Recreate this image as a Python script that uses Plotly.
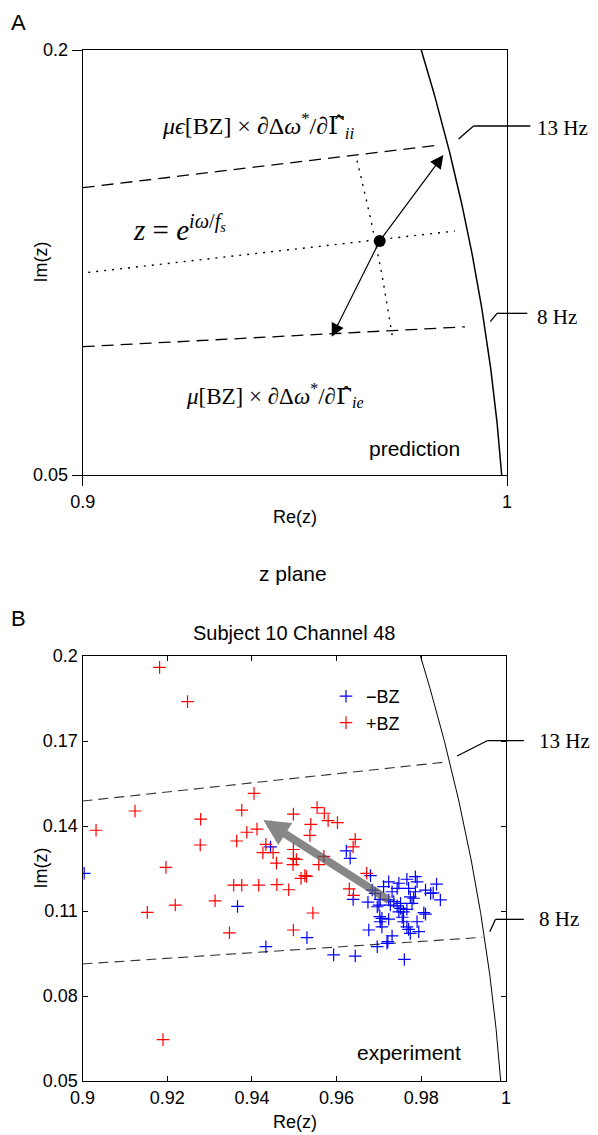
import numpy as np
import plotly.graph_objects as go

# ---------------- Panel B data ----------------
blue_re = [0.9004, 0.9444, 0.9623, 0.9632, 0.9680, 0.9366, 0.9639, 0.9674, 0.9691, 0.9700,
           0.9702, 0.9530, 0.9433, 0.9723, 0.9711, 0.9723, 0.9731, 0.9743, 0.9747, 0.9735,
           0.9743, 0.9751, 0.9758, 0.9766, 0.9747, 0.9766, 0.9786, 0.9790, 0.9770, 0.9786,
           0.9778, 0.9774, 0.9810, 0.9822, 0.9828, 0.9836, 0.9845, 0.9806, 0.9810, 0.9790,
           0.9758, 0.9755, 0.9766, 0.9770, 0.9774, 0.9794, 0.9731, 0.9721, 0.9707, 0.9703,
           0.9723, 0.9707, 0.9676, 0.9696, 0.9719, 0.9593, 0.9644, 0.9760, 0.9696, 0.9684,
           0.9703, 0.9727, 0.9782, 0.9751]
blue_im = [0.1233, 0.1326, 0.1312, 0.1286, 0.1225, 0.1116, 0.1141, 0.1131, 0.1162, 0.1121,
           0.1080, 0.1006, 0.0974, 0.1139, 0.1186, 0.1203, 0.1168, 0.1180, 0.1198, 0.1133,
           0.1118, 0.1109, 0.1097, 0.1106, 0.1097, 0.1212, 0.1221, 0.1203, 0.1180, 0.1168,
           0.1127, 0.1150, 0.1174, 0.1162, 0.1164, 0.1195, 0.1139, 0.1094, 0.1089, 0.1062,
           0.1062, 0.1078, 0.1044, 0.1035, 0.1021, 0.1027, 0.1012, 0.0992, 0.1074, 0.1062,
           0.1071, 0.1044, 0.1033, 0.0974, 0.0986, 0.0945, 0.0941, 0.0929, 0.1115, 0.1174,
           0.1141, 0.1121, 0.1145, 0.1127]

red_re = [0.9182, 0.9248, 0.9405, 0.9124, 0.9376, 0.9498, 0.9554, 0.9032, 0.9279, 0.9539,
          0.9388, 0.9412, 0.9537, 0.9364, 0.9278, 0.9433, 0.9571, 0.9580, 0.9602, 0.9644,
          0.9639, 0.9426, 0.9450, 0.9498, 0.9498, 0.9505, 0.9497, 0.9458, 0.9558, 0.9570,
          0.9525, 0.9529, 0.9516, 0.9357, 0.9376, 0.9416, 0.9459, 0.9487, 0.9313, 0.9544,
          0.9671, 0.9630, 0.9640, 0.9197, 0.9219, 0.9153, 0.9347, 0.9498, 0.9190]
red_im = [0.1960, 0.1839, 0.1515, 0.1453, 0.1456, 0.1442, 0.1465, 0.1385, 0.1424, 0.1406,
          0.1378, 0.1389, 0.1367, 0.1347, 0.1333, 0.1335, 0.1445, 0.1419, 0.1412, 0.1353,
          0.1326, 0.1306, 0.1306, 0.1317, 0.1286, 0.1282, 0.1264, 0.1269, 0.1264, 0.1293,
          0.1225, 0.1222, 0.1215, 0.1191, 0.1191, 0.1191, 0.1193, 0.1175, 0.1136, 0.1093,
          0.1233, 0.1178, 0.1155, 0.1254, 0.1121, 0.1095, 0.1023, 0.1033, 0.0646]

b_xticks = [0.9, 0.92, 0.94, 0.96, 0.98, 1.0]
b_xticklabels = ["0.9", "0.92", "0.94", "0.96", "0.98", "1"]
b_yticks = [0.05, 0.08, 0.11, 0.14, 0.17, 0.2]
b_yticklabels = ["0.05", "0.08", "0.11", "0.14", "0.17", "0.2"]

# B reference lines (13 Hz / 8 Hz radial lines)
b_dash13_re = [0.9, 0.9853]
b_dash13_im = [0.1488, 0.1625]
b_dash8_re = [0.9, 0.9944]
b_dash8_im = [0.0913, 0.1007]
b_arrow_tail = [0.9727, 0.1135]
b_arrow_tip = [0.9427, 0.1421]
b_lead13_re = [0.98846, 0.99556, 1.00421]
b_lead13_im = [0.1647, 0.1701, 0.1701]
b_lead8_re = [0.99617, 0.99752, 1.00421]
b_lead8_im = [0.10268, 0.10706, 0.10706]
b_hz_labels = ["13 Hz", "8 Hz"]
b_hz_label_re = [1.0074, 1.0074]
b_hz_label_im = [0.1701, 0.1071]

# ---------------- Panel A data (schematic) ----------------
a_xticks = [0.9, 1.0]
a_xticklabels = ["0.9", "1"]
a_yticks = [0.05, 0.2]
a_yticklabels = ["0.05", "0.2"]
a_dash13_re = [0.9, 0.9842]
a_dash13_im = [0.1514, 0.1665]
a_dash8_re = [0.9, 0.9901]
a_dash8_im = [0.0953, 0.1023]
a_dotline_re = [0.9013, 0.9877]
a_dotline_im = [0.1215, 0.1361]
a_pole = [0.9700, 0.1326]
a_arc_r = 0.978
a_arc_im = [0.0994, 0.1623]
a_tip_up = [0.9850, 0.1629]
a_tip_lo = [0.9587, 0.0988]
a_lead13_re = [0.98858, 0.99212, 1.0055]
a_lead13_im = [0.16858, 0.17317, 0.17317]
a_lead8_re = [0.99606, 0.99764, 1.00479]
a_lead8_im = [0.10410, 0.10706, 0.10706]
a_hz_labels = ["13 Hz", "8 Hz"]
a_hz_label_re = [1.0067, 1.0067]
a_hz_label_im = [0.1725, 0.1058]

X0, X1 = 0.9, 1.0
Y0, Y1 = 0.05, 0.2

SANS = "Liberation Sans, Arial, sans-serif"
SERIF = "Liberation Serif, DejaVu Serif, serif"

# the page adds an 8 px body margin; size the figure so that it fits the window
OFF = 8
W, H = 598 - OFF, 1135 - OFF


def px_x(p):
    return (p - OFF) / W


def px_y(p):
    return 1 - (p - OFF) / H


fig = go.Figure()

# unit circle |z| = 1
uc_im = np.linspace(Y0, Y1, 200)
uc_re = np.sqrt(1 - uc_im ** 2)

# ---------- Panel A ----------
fig.add_trace(go.Scatter(x=uc_re, y=uc_im, mode="lines", line=dict(color="black", width=1.5),
                         xaxis="x", yaxis="y", showlegend=False, hoverinfo="skip"))
for xs, ys in [(a_dash13_re, a_dash13_im), (a_dash8_re, a_dash8_im)]:
    fig.add_trace(go.Scatter(x=xs, y=ys, mode="lines",
                             line=dict(color="black", width=1.3, dash="12px,7px"),
                             xaxis="x", yaxis="y", showlegend=False, hoverinfo="skip"))
fig.add_trace(go.Scatter(x=a_dotline_re, y=a_dotline_im, mode="lines",
                         line=dict(color="black", width=1.4, dash="2px,6px"),
                         xaxis="x", yaxis="y", showlegend=False, hoverinfo="skip"))
arc_im = np.linspace(a_arc_im[0], a_arc_im[1], 60)
arc_re = np.sqrt(a_arc_r ** 2 - arc_im ** 2)
fig.add_trace(go.Scatter(x=arc_re, y=arc_im, mode="lines",
                         line=dict(color="black", width=1.4, dash="2px,6px"),
                         xaxis="x", yaxis="y", showlegend=False, hoverinfo="skip"))
fig.add_trace(go.Scatter(x=[a_pole[0]], y=[a_pole[1]], mode="markers",
                         marker=dict(color="black", size=12),
                         xaxis="x", yaxis="y", showlegend=False, hoverinfo="skip"))

# ---------- Panel B ----------
fig.add_trace(go.Scatter(x=uc_re, y=uc_im, mode="lines",
                         line=dict(color="black", width=1),
                         xaxis="x2", yaxis="y2", showlegend=False, hoverinfo="skip"))
for xs, ys in [(b_dash13_re, b_dash13_im), (b_dash8_re, b_dash8_im)]:
    fig.add_trace(go.Scatter(x=xs, y=ys, mode="lines",
                             line=dict(color="#333333", width=1.1, dash="10px,6px"),
                             xaxis="x2", yaxis="y2", showlegend=False, hoverinfo="skip"))
fig.add_trace(go.Scatter(x=blue_re, y=blue_im, mode="markers", name="\u2212BZ",
                         marker=dict(symbol="cross-thin", size=9, color="blue",
                                     line=dict(color="blue", width=1.2)),
                         xaxis="x2", yaxis="y2"))
fig.add_trace(go.Scatter(x=red_re, y=red_im, mode="markers", name="+BZ",
                         marker=dict(symbol="cross-thin", size=9, color="red",
                                     line=dict(color="red", width=1.2)),
                         xaxis="x2", yaxis="y2"))

# domains from the pixel frame of the reference
A_XD = [px_x(82.7), px_x(507)]
A_YD = [px_y(475), px_y(50)]
B_XD = [px_x(82.5), px_x(506)]
B_YD = [px_y(1081), px_y(656)]

axis_common = dict(showgrid=False, zeroline=False, showline=True, linecolor="black",
                   tickcolor="black", automargin=False,
                   tickfont=dict(family=SANS, size=18, color="black"))

fig.update_layout(
    template="none",
    width=W, height=H, margin=dict(l=0, r=0, t=0, b=0, pad=0),
    paper_bgcolor="white", plot_bgcolor="white",
    font=dict(family=SANS, color="black"),
    xaxis=dict(domain=A_XD, range=[X0, X1], anchor="y", tickvals=a_xticks, ticktext=a_xticklabels,
               ticks="outside", ticklen=10, mirror=True, linewidth=1.3, **axis_common),
    yaxis=dict(domain=A_YD, range=[Y0, Y1], anchor="x", tickvals=a_yticks, ticktext=a_yticklabels,
               ticks="outside", ticklen=10, mirror=True, linewidth=1.3, **axis_common),
    xaxis2=dict(domain=B_XD, range=[X0, X1], anchor="y2", tickvals=b_xticks, ticktext=b_xticklabels,
                ticks="inside", ticklen=5, mirror="ticks", linewidth=1, **axis_common),
    yaxis2=dict(domain=B_YD, range=[Y0, Y1], anchor="x2", tickvals=b_yticks, ticktext=b_yticklabels,
                ticks="inside", ticklen=5, mirror="ticks", linewidth=1, **axis_common),
    showlegend=True,
    legend=dict(x=px_x(326), y=px_y(678), xanchor="left", yanchor="top", bgcolor="rgba(0,0,0,0)",
                font=dict(family=SANS, size=18, color="black"), itemwidth=30,
                tracegroupgap=0, borderwidth=0),
)


def dom(v, lo, hi):
    return (v - lo) / (hi - lo)


# leader lines (domain refs so they are not clipped)
for (lre, lim, xr, yr) in [(a_lead13_re, a_lead13_im, "x domain", "y domain"),
                           (a_lead8_re, a_lead8_im, "x domain", "y domain"),
                           (b_lead13_re, b_lead13_im, "x2 domain", "y2 domain"),
                           (b_lead8_re, b_lead8_im, "x2 domain", "y2 domain")]:
    for i in range(len(lre) - 1):
        fig.add_shape(type="line", xref=xr, yref=yr,
                      x0=dom(lre[i], X0, X1), y0=dom(lim[i], Y0, Y1),
                      x1=dom(lre[i + 1], X0, X1), y1=dom(lim[i + 1], Y0, Y1),
                      line=dict(color="black", width=1.3))

ann = []
# panel A arrows
for tip in (a_tip_up, a_tip_lo):
    ann.append(dict(x=tip[0], y=tip[1], ax=a_pole[0], ay=a_pole[1], xref="x", yref="y",
                    axref="x", ayref="y", text="", showarrow=True, arrowhead=2,
                    arrowsize=2.2, arrowwidth=1.2, arrowcolor="black", standoff=0))
# panel B grey arrow
ann.append(dict(x=b_arrow_tip[0], y=b_arrow_tip[1], ax=b_arrow_tail[0], ay=b_arrow_tail[1],
                xref="x2", yref="y2", axref="x2", ayref="y2", text="", showarrow=True,
                arrowhead=2, arrowsize=0.65, arrowwidth=8, arrowcolor="rgba(90,90,90,0.72)",
                standoff=0))

HAT_G = '<span style="font-family:DejaVu Serif">\u0393\u0302</span>'
CM = dict(xanchor="center", yanchor="middle", showarrow=False)
# math labels panel A
ann.append(dict(x=0.9412, y=0.1732, xref="x", yref="y",
                text="<i>μϵ</i>[BZ] × ∂Δ<i>ω</i><sup>*</sup>/∂" + HAT_G + "<sub><i>ii</i></sub>",
                font=dict(family=SERIF, size=24, color="black"), **CM))
ann.append(dict(x=0.9228, y=0.1372, xref="x", yref="y",
                text="<i>z</i> = <i>e</i><sup><i>iω</i>/<i>f</i><sub><i>s</i></sub></sup>",
                font=dict(family=SERIF, size=29, color="black"), **CM))
ann.append(dict(x=0.9453, y=0.0782, xref="x", yref="y",
                text="<i>μ</i>[BZ] × ∂Δ<i>ω</i><sup>*</sup>/∂" + HAT_G + "<sub><i>ie</i></sub>",
                font=dict(family=SERIF, size=23, color="black"), **CM))
ann.append(dict(x=0.9782, y=0.0592, xref="x", yref="y", text="prediction",
                font=dict(family=SANS, size=21, color="black"), **CM))
ann.append(dict(x=0.9772, y=0.0601, xref="x2", yref="y2", text="experiment",
                font=dict(family=SANS, size=21, color="black"), **CM))

# Hz labels (domain refs, outside the axes)
for labels, lre, lim, xr, yr in [(a_hz_labels, a_hz_label_re, a_hz_label_im, "x domain", "y domain"),
                                 (b_hz_labels, b_hz_label_re, b_hz_label_im, "x2 domain", "y2 domain")]:
    for t, xx, yy in zip(labels, lre, lim):
        ann.append(dict(x=dom(xx, X0, X1), y=dom(yy, Y0, Y1), xref=xr, yref=yr, showarrow=False,
                        text=t, xanchor="left", yanchor="middle",
                        font=dict(family=SERIF, size=21, color="black")))

# axis titles and panel labels (paper, explicit anchors)
ann.append(dict(x=px_x(295), y=px_y(517), xref="paper", yref="paper",
                text="Re(z)", font=dict(family=SANS, size=18), **CM))
ann.append(dict(x=px_x(295), y=px_y(1122), xref="paper", yref="paper",
                text="Re(z)", font=dict(family=SANS, size=18), **CM))
ann.append(dict(x=px_x(40), y=px_y(262.5), xref="paper", yref="paper",
                text="Im(z)", textangle=-90, font=dict(family=SANS, size=18), **CM))
ann.append(dict(x=px_x(40), y=px_y(868.5), xref="paper", yref="paper",
                text="Im(z)", textangle=-90, font=dict(family=SANS, size=18), **CM))
ann.append(dict(x=px_x(18), y=px_y(8), xref="paper", yref="paper",
                text="A", xanchor="center", yanchor="top", showarrow=False,
                font=dict(family=SANS, size=22)))
ann.append(dict(x=px_x(18), y=px_y(618), xref="paper", yref="paper",
                text="B", font=dict(family=SANS, size=22), **CM))
ann.append(dict(x=px_x(293), y=px_y(573), xref="paper", yref="paper",
                text="z plane", font=dict(family=SANS, size=21), **CM))
ann.append(dict(x=px_x(294), y=px_y(633), xref="paper", yref="paper",
                text="Subject 10 Channel 48", font=dict(family=SANS, size=20), **CM))

fig.update_layout(annotations=ann)
fig.write_html("out.html")
